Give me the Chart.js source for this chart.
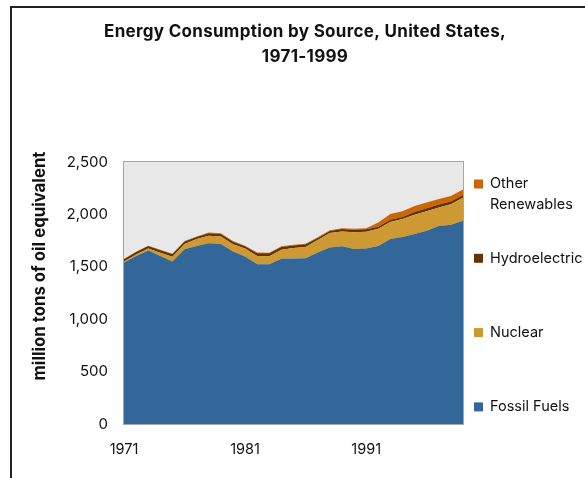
<!DOCTYPE html>
<html>
<head>
<meta charset="utf-8">
<script src="https://cdn.jsdelivr.net/npm/chart.js@4"></script>
<style>
  html, body { margin: 0; padding: 0; background: #fff; overflow: hidden; }
  #wrap { position: relative; width: 585px; height: 478px; }
  #frame { position: absolute; left: 10px; top: 6px; width: 600px; height: 500px;
           border-top: 2px solid #222; border-left: 2px solid #222; pointer-events: none; }
  canvas { position: absolute; left: 0; top: 0; }
</style>
</head>
<body>
<div id="wrap">
  <canvas id="energyChart" width="585" height="478"></canvas>
  <div id="frame"></div>
</div>
<script>
// Years on the x axis
const years = ['1971','1972','1973','1974','1975','1976','1977','1978','1979','1980',
               '1981','1982','1983','1984','1985','1986','1987','1988','1989','1990',
               '1991','1992','1993','1994','1995','1996','1997','1998','1999'];

// Series values, million tons of oil equivalent
const fossilFuels = [1541,1604,1655,1604,1551,1668,1699,1725,1718,1646,1598,1525,1525,1576,1579,1582,1636,1684,1696,1671,1674,1699,1765,1785,1812,1845,1889,1902,1940];
const nuclear     = [10,14,20,29,45,50,66,72,71,70,76,79,76,86,100,107,119,139,141,159,160,163,162,170,185,186,178,195,218];
const hydro       = [22,23,23,26,26,24,19,24,24,24,22,26,28,28,24,26,21,19,23,24,24,21,23,21,26,28,28,26,27];
const otherRenew  = [3,3,3,3,3,5,6,7,6,6,6,6,6,7,7,6,6,7,8,8,10,40,55,55,56,55,52,52,52];

// y axis ticks
const yTicks = [0, 500, 1000, 1500, 2000, 2500];

const seriesNames  = ['Fossil Fuels', 'Nuclear', 'Hydroelectric', 'Other Renewables'];
const seriesColors = ['#336699', '#cc9933', '#663300', '#cc6600'];
const seriesData   = [fossilFuels, nuclear, hydro, otherRenew];

const chartTitle = ['Energy Consumption by Source, United States,', '1971-1999'];
const yTitle = 'million tons of oil equivalent';

// plot background, frame, titles and the legend
const decor = {
  id: 'decor',
  beforeDraw(chart) {
    const { ctx, chartArea: a } = chart;
    ctx.save();
    ctx.fillStyle = '#e8e8e8';
    ctx.fillRect(a.left, a.top, a.right - a.left, a.bottom - a.top);
    ctx.restore();
  },
  afterDraw(chart) {
    const { ctx, chartArea: a } = chart;
    ctx.save();
    ctx.strokeStyle = '#a6a6a6';
    ctx.lineWidth = 1;
    ctx.strokeRect(a.left - 0.5, a.top - 0.5, a.right - a.left + 1, a.bottom - a.top + 1);

    // chart title
    ctx.fillStyle = '#111';
    ctx.font = 'bold 17px Inter';
    ctx.letterSpacing = '0.3px';
    ctx.textAlign = 'center';
    ctx.textBaseline = 'middle';
    ctx.fillText(chartTitle[0], 305, 32);
    ctx.fillText(chartTitle[1], 305, 57);
    ctx.letterSpacing = '0px';

    // y axis title
    ctx.save();
    ctx.translate(40, 266);
    ctx.rotate(-Math.PI / 2);
    ctx.font = 'bold 16.8px Inter';
    ctx.fillText(yTitle, 0, 0);
    ctx.restore();

    // legend, top entry is the top series
    ctx.font = '14.5px Inter';
    ctx.textAlign = 'left';
    for (let i = 0; i < seriesNames.length; i++) {
      const k = seriesNames.length - 1 - i;
      const y = 184 + i * 74.3;
      ctx.fillStyle = seriesColors[k];
      ctx.fillRect(474, y - 4.5, 9, 9);
      ctx.fillStyle = '#111';
      if (seriesNames[k] === 'Other Renewables') {
        ctx.fillText('Other', 490, y);
        ctx.fillText('Renewables', 490, y + 21);
      } else {
        ctx.fillText(seriesNames[k], 490, y);
      }
    }
    ctx.restore();
  }
};

const datasets = seriesNames.map((name, i) => ({
  label: name,
  data: seriesData[i],
  backgroundColor: seriesColors[i],
  borderWidth: 0,
  pointRadius: 0,
  tension: 0,
  fill: i === 0 ? 'origin' : '-1'
}));

const ctx = document.getElementById('energyChart').getContext('2d');
new Chart(ctx, {
  type: 'line',
  data: { labels: years, datasets: datasets },
  options: {
    responsive: false,
    animation: false,
    layout: { padding: { left: 0, right: 122, top: 162, bottom: 0 } },
    plugins: {
      legend: { display: false },
      title: { display: false },
      tooltip: { enabled: false }
    },
    scales: {
      x: {
        offset: false,
        grid: { display: false, drawTicks: false },
        border: { display: false },
        ticks: {
          autoSkip: false,
          maxRotation: 0,
          padding: 17,
          color: '#111',
          font: { family: 'Inter', size: 14.5 },
          callback: (v, i) => (i % 10 === 0 ? years[i] : '')
        },
        afterFit: s => { s.height = 54; }
      },
      y: {
        stacked: true,
        min: 0,
        max: 2500,
        afterBuildTicks: s => { s.ticks = yTicks.map(v => ({ value: v })); },
        grid: { display: false, drawTicks: false },
        border: { display: false },
        ticks: {
          padding: 16,
          color: '#111',
          font: { family: 'Inter', size: 15 },
          callback: v => v.toLocaleString('en-US')
        },
        afterFit: s => { s.width = 124; }
      }
    }
  },
  plugins: [decor]
});
</script>
</body>
</html>
